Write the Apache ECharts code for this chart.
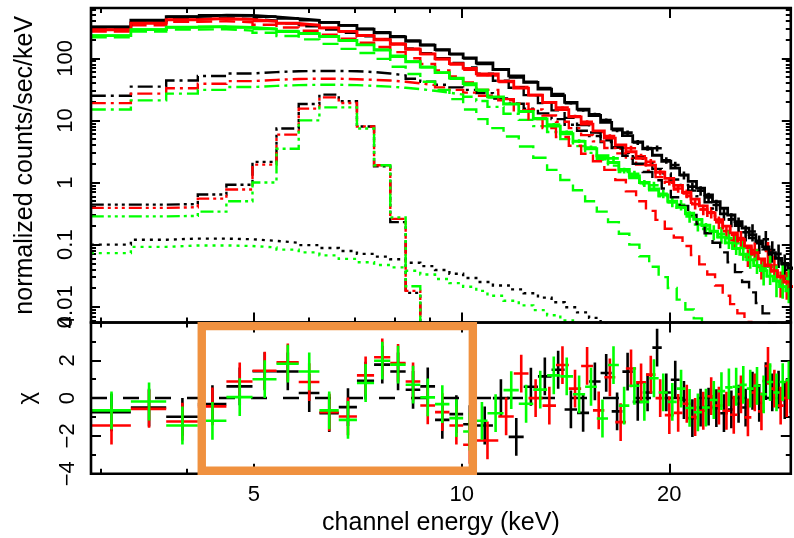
<!DOCTYPE html>
<html>
<head>
<meta charset="utf-8">
<script src="https://cdn.jsdelivr.net/npm/echarts@6/dist/echarts.min.js"></script>
<style>
html,body{margin:0;padding:0;background:#ffffff;}
#chart{width:794px;height:538px;}
</style>
</head>
<body>
<div id="chart"></div>
<script>
// ---------------- data ----------------
// channel bin edges (keV)
const edgesLow = [2.9, 3.315, 3.73, 4.145, 4.56, 4.975, 5.39, 5.805, 6.22, 6.635, 7.05, 7.465, 7.88, 8.295, 8.71, 9.15, 9.6, 10.05, 10.5];
const edgesHighBlack = [11.1, 11.7, 12.3, 12.9, 13.5, 14.1, 14.7, 15.3, 15.9, 16.5, 17.1, 17.7, 18.3, 18.9, 19.5, 20.1, 20.7, 21.3, 21.9, 22.5, 23.1, 23.7, 24.3, 24.9, 25.5, 26.1, 26.7, 27.3, 27.9, 28.5, 29.1, 29.7, 30.3];
const edgesHighRed = [11.3, 11.9, 12.5, 13.1, 13.7, 14.3, 14.9, 15.5, 16.1, 16.7, 17.3, 17.9, 18.5, 19.1, 19.7, 20.3, 20.9, 21.5, 22.1, 22.7, 23.3, 23.9, 24.5, 25.1, 25.7, 26.3, 26.9, 27.5, 28.1, 28.7, 29.3, 29.9, 30.5];
const edgesHighGreen = [10.9, 11.5, 12.1, 12.7, 13.3, 13.9, 14.5, 15.1, 15.7, 16.3, 16.9, 17.5, 18.1, 18.7, 19.3, 19.9, 20.5, 21.1, 21.7, 22.3, 22.9, 23.5, 24.1, 24.7, 25.3, 25.9, 26.5, 27.1, 27.7, 28.3, 28.9, 29.5, 30.1];

// total model (normalized counts/sec/keV)
const totBlack = [320, 410, 470, 495, 490, 465, 435, 410, 380, 340, 295, 258, 222, 190, 163, 138, 118, 102, 84, 66, 52, 41, 32, 25, 19.5, 15.2, 12, 9.3, 7.3, 5.7, 4.5, 3.5, 2.75, 2.2, 1.7, 1.33, 1.04, 0.81, 0.63, 0.49, 0.385, 0.3, 0.235, 0.185, 0.145, 0.115, 0.092, 0.074, 0.06, 0.05, 0.042];
const totRed = [290, 368, 420, 435, 425, 395, 365, 340, 310, 272, 232, 199, 168, 140, 118, 98, 82, 69, 56, 43, 33, 25.5, 19.5, 14.9, 11.4, 8.7, 6.8, 5.2, 4.05, 3.13, 2.45, 1.9, 1.47, 1.17, 0.9, 0.7, 0.54, 0.42, 0.325, 0.253, 0.198, 0.155, 0.121, 0.095, 0.074, 0.059, 0.047, 0.038, 0.031, 0.025, 0.021];
const totGreen = [232, 290, 318, 325, 315, 295, 270, 250, 225, 195, 165, 135, 107, 88, 72, 59, 48, 39, 31, 24, 18.3, 14, 10.6, 8.1, 6.1, 4.6, 3.5, 2.7, 2.1, 1.63, 1.28, 1.0, 0.79, 0.63, 0.5, 0.4, 0.32, 0.255, 0.205, 0.165, 0.133, 0.107, 0.087, 0.07, 0.057, 0.046, 0.038, 0.031, 0.026, 0.021, 0.018];

// component A (dashed)
const compABlack = [294, 375, 425, 442, 432, 403, 366, 329, 291, 258, 227, 199, 169, 143, 121, 100, 84, 71, 56.5, 43.5, 33.5, 25.5, 19, 14.5, 11, 8.4, 6.4, 4.8, 3.6, 2.7, 2.0, 1.48, 1.09, 0.8, 0.58, 0.42, 0.3, 0.215, 0.152, 0.107, 0.075, 0.052, 0.036, 0.025, 0.017, 0.0115, 0.0078, 0.0053, 0.0035, 0.0023, 0.0015];
const compARed = [271, 341, 387, 395, 381, 348, 313, 278, 240, 206, 178, 152, 126, 100.5, 81, 64, 51, 41, 31, 21, 14.5, 10.5, 7.5, 5.4, 3.9, 2.9, 2.2, 1.6, 1.1, 0.72, 0.5, 0.35, 0.25, 0.18, 0.13, 0.095, 0.068, 0.048, 0.033, 0.022, 0.015, 0.011, 0.0078, 0.0057, 0.004, 0.0028, 0.002];
const compAGreen = [217, 269, 291, 294, 280, 258, 229, 202, 171, 142, 122, 98, 73, 56, 42, 31, 22, 15, 10.5, 7.5, 5.5, 3.8, 2.5, 1.6, 1.1, 0.75, 0.5, 0.34, 0.23, 0.15, 0.1, 0.065, 0.044, 0.03, 0.02, 0.013, 0.009, 0.0065, 0.0045, 0.003];

// component B (dash-dot)
const compBBlack = [25, 35, 44, 52, 57, 60, 62, 62.5, 62.5, 62, 60, 57, 53, 47, 42, 37.5, 34, 31, 27.5, 22.5, 18.5, 15.5, 13, 10.5, 8.5, 6.8, 5.6, 4.5, 3.7, 3.0, 2.5, 2.0, 1.66, 1.4, 1.12, 0.91, 0.74, 0.6, 0.48, 0.38, 0.31, 0.25, 0.2, 0.16, 0.128, 0.103, 0.084, 0.069, 0.056, 0.048, 0.041];
const compBRed = [19, 27, 33, 39, 43, 45, 46.5, 47, 47, 46, 45, 44, 42, 39.5, 37, 34, 31, 28, 25, 22, 18.5, 15, 12, 9.5, 7.5, 5.8, 4.6, 3.6, 2.95, 2.41, 1.95, 1.55, 1.22, 0.99, 0.77, 0.6, 0.47, 0.37, 0.29, 0.23, 0.183, 0.144, 0.113, 0.089, 0.07, 0.056, 0.045, 0.037, 0.03, 0.025, 0.021];
const compBGreen = [15, 21, 27, 31, 34.5, 36, 37, 37.5, 37.5, 37, 36, 35, 33.5, 32, 30, 28, 26, 24, 20.5, 16.5, 12.8, 10.2, 8.1, 6.5, 5.0, 3.85, 3.0, 2.36, 1.87, 1.48, 1.18, 0.94, 0.75, 0.6, 0.48, 0.39, 0.31, 0.25, 0.2, 0.162, 0.131, 0.106, 0.086, 0.07, 0.057, 0.046, 0.038, 0.031, 0.026, 0.021, 0.018];

// component C (iron line, dash-dot-dot-dot)
const compCBlack = [0.44, 0.44, 0.45, 0.64, 0.92, 2.15, 7.4, 18.4, 26, 20.3, 8.0, 1.82, 0.23, 0.0167, 0.001];
const compCRed = [0.39, 0.39, 0.4, 0.55, 0.77, 1.94, 5.9, 15.5, 23.5, 19.1, 8.0, 1.9, 0.26, 0.018, 0.001];
const compCGreen = [0.285, 0.285, 0.29, 0.34, 0.5, 1.0, 3.5, 10, 16.2, 16.2, 7.4, 1.9, 0.275, 0.0213, 0.001];

// component D (dotted)
const compDBlack = [0.1, 0.12, 0.125, 0.125, 0.122, 0.115, 0.107, 0.098, 0.088, 0.079, 0.071, 0.064, 0.058, 0.051, 0.045, 0.039, 0.034, 0.029, 0.025, 0.022, 0.019, 0.0165, 0.014, 0.0118, 0.0098, 0.0081, 0.0066, 0.0053, 0.0043, 0.0034];
const compDGreen = [0.073, 0.092, 0.097, 0.097, 0.095, 0.09, 0.083, 0.075, 0.067, 0.059, 0.052, 0.047, 0.043, 0.038, 0.033, 0.028, 0.024, 0.021, 0.018, 0.015, 0.0125, 0.0105, 0.0088, 0.0073, 0.006, 0.0049, 0.004];

// observed data
const dataBlack = [318, 409, 467, 494, 492, 470, 440, 411, 378, 338.5, 297.7, 263, 225.8, 191.1, 164.4, 135.5, 116.2, 99.2, 81.3, 66, 49.0, 41.8, 33.3, 26.5, 19.0, 14.6, 12.6, 10.1, 6.93, 6.35, 4.42, 3.6, 3.56, 2.28, 1.91, 1.31, 0.86, 0.74, 0.576, 0.435, 0.314, 0.255, 0.216, 0.158, 0.163, 0.105, 0.122, 0.082, 0.071, 0.048, 0.046];
const dataRed = [286.2, 366.3, 415.8, 433.5, 428, 399.6, 371.2, 342.6, 307.9, 269.4, 235.1, 204.2, 172.1, 141.7, 117.3, 96.7, 79.6, 65.3, 52.9, 41.8, 34.3, 25.5, 19.2, 16.1, 11.7, 9.54, 6.52, 5.61, 3.64, 3.57, 2.65, 2.16, 1.47, 1.03, 0.8, 0.666, 0.446, 0.367, 0.332, 0.23, 0.165, 0.118, 0.128, 0.064, 0.0815, 0.0437, 0.079, 0.046, 0.0254, 0.025, 0.0199];
const dataGreen = [230.5, 289.5, 313.8, 321.5, 315.1, 297.7, 274.9, 253.5, 223.4, 192.3, 166.7, 138.7, 110, 89.1, 72.05, 58.6, 46.8, 37.2, 29.9, 23.4, 18.6, 13.8, 10.8, 8.6, 6.52, 4.66, 3.66, 2.45, 2.45, 1.56, 1.38, 0.974, 0.906, 0.659, 0.483, 0.438, 0.285, 0.211, 0.179, 0.161, 0.148, 0.127, 0.105, 0.0886, 0.0684, 0.0589, 0.0416, 0.0439, 0.0301, 0.0312, 0.0283];

// relative 1-sigma errors of the data
const relErrBlack = [0.008, 0.007, 0.007, 0.007, 0.007, 0.007, 0.008, 0.008, 0.008, 0.009, 0.010, 0.011, 0.012, 0.013, 0.014, 0.016, 0.018, 0.020, 0.022, 0.025, 0.028, 0.032, 0.036, 0.041, 0.046, 0.052, 0.058, 0.065, 0.073, 0.082, 0.092, 0.10, 0.11, 0.12, 0.13, 0.145, 0.16, 0.175, 0.19, 0.21, 0.23, 0.25, 0.27, 0.29, 0.31, 0.33, 0.36, 0.38, 0.41, 0.44, 0.47];
const relErrRed = [0.009, 0.008, 0.008, 0.008, 0.008, 0.008, 0.009, 0.009, 0.009, 0.010, 0.011, 0.012, 0.013, 0.014, 0.016, 0.018, 0.020, 0.022, 0.025, 0.028, 0.031, 0.035, 0.040, 0.045, 0.051, 0.057, 0.064, 0.072, 0.080, 0.090, 0.10, 0.11, 0.12, 0.13, 0.145, 0.16, 0.175, 0.19, 0.21, 0.23, 0.25, 0.27, 0.30, 0.32, 0.34, 0.37, 0.40, 0.42, 0.45, 0.48, 0.52];
const relErrGreen = [0.010, 0.009, 0.009, 0.009, 0.009, 0.009, 0.010, 0.010, 0.011, 0.012, 0.013, 0.014, 0.016, 0.017, 0.018, 0.021, 0.023, 0.026, 0.029, 0.033, 0.036, 0.042, 0.047, 0.053, 0.060, 0.068, 0.075, 0.085, 0.095, 0.107, 0.12, 0.13, 0.14, 0.155, 0.17, 0.19, 0.21, 0.23, 0.25, 0.27, 0.30, 0.33, 0.35, 0.38, 0.40, 0.43, 0.47, 0.49, 0.53, 0.57, 0.6];

// residuals (chi)
const chiBlack = [-0.75, -0.5, -0.99, -0.32, 0.62, 1.42, 1.41, 0.27, -0.8, -0.48, 0.92, 1.77, 1.41, 0.44, 0.62, -1.15, -0.85, -1.38, -1.45, 0.0, -2.05, 0.6, 1.15, 1.5, -0.6, -0.78, 0.88, 1.33, -0.7, 1.4, -0.2, 0.3, 2.67, 0.3, 0.97, -0.1, -1.06, -0.5, -0.45, -0.53, -0.8, -0.6, -0.3, -0.5, 0.39, -0.25, 0.9, 0.3, 0.45, -0.1, 0.2];
const chiRed = [-1.45, -0.57, -1.24, -0.44, 0.88, 1.45, 1.89, 0.85, -0.75, -0.97, 1.2, 2.16, 1.86, 0.88, -0.39, -0.74, -1.45, -2.47, -2.24, -0.97, 1.3, 0.0, -0.4, 1.75, 0.5, 1.7, -0.65, 1.1, -1.27, 1.57, 0.83, 1.24, 0.0, -0.9, -0.78, -0.3, -1.0, -0.67, 0.1, -0.4, -0.67, -0.88, 0.2, -1.02, 0.3, -0.7, 1.7, 0.5, -0.4, 0.0, -0.1];
const chiGreen = [-0.65, -0.18, -1.45, -1.2, 0.05, 1.0, 1.82, 1.41, -0.65, -1.15, 0.8, 1.98, 1.77, 0.71, 0.04, -0.32, -1.06, -1.77, -1.2, -0.8, 0.42, -0.3, 0.45, 1.2, 1.15, 0.2, 0.6, -1.08, 1.75, -0.4, 0.65, -0.2, 1.05, 0.3, -0.2, 0.5, -0.52, -0.75, -0.5, -0.1, 0.37, 0.57, 0.6, 0.7, 0.5, 0.65, 0.2, 0.85, 0.3, 0.85, 0.95];

// axes
const xRange = [2.902, 30.0];
const yRangeTop = [0.00557, 646];
const chiRange = [-4, 4];
const xMajorTicks = [5, 10, 20];
const xTickLabels = ['5', '10', '20'];
const xMinorTicks = [3, 4, 6, 7, 8, 9, 30];
const yMajorTicks = [0.01, 0.1, 1, 10, 100];
const yTickLabels = ['0.01', '0.1', '1', '10', '100'];
const yMinorMantissa = [2, 3, 4, 5, 6, 7, 8, 9];
const yMinorDecades = [0.001, 0.01, 0.1, 1, 10, 100];
const chiTicks = [-4, -2, 0, 2, 4];
const chiTickLabels = ['\u22124', '\u22122', '0', '2', '4'];
const chiMinorTicks = [-3, -1, 1, 3];
const highlightE = [4.2, 10.38];
const highlightChi = [-3.84, 3.81];

// ---------------- chart ----------------
const FONT = "'Liberation Sans', Arial, Helvetica, sans-serif";
const BLACK = '#000000', RED = '#ff0000', GREEN = '#00ff00';
const L = Math.log10;

const edgesBlack = edgesLow.concat(edgesHighBlack);
const edgesRed = edgesLow.concat(edgesHighRed);
const edgesGreen = edgesLow.concat(edgesHighGreen);

function stepData(edges, vals) {
  const out = [];
  for (let i = 0; i < vals.length; i++) out.push([edges[i], vals[i]]);
  out.push([edges[vals.length], vals[vals.length - 1]]);
  return out;
}
function stepSeries(edges, vals, color, dash, width) {
  return {
    type: 'line', xAxisIndex: 0, yAxisIndex: 0, data: stepData(edges, vals),
    step: 'end', symbol: 'none', showSymbol: false, silent: true, clip: true,
    lineStyle: { color: color, width: width, type: dash, cap: 'butt', join: 'miter' },
    z: 3
  };
}
function crossSeries(xi, yi, rows, color, z) {
  return {
    type: 'custom', xAxisIndex: xi, yAxisIndex: yi, data: rows, clip: true, silent: true, z: z,
    encode: { x: [0, 1], y: [2, 3, 4] },
    renderItem: function (params, api) {
      const lo = api.value(0), hi = api.value(1), v = api.value(2), vlo = api.value(3), vhi = api.value(4);
      const xc = (lo + hi) / 2;
      const a = api.coord([lo, v]), b = api.coord([hi, v]);
      const c1 = api.coord([xc, vlo]), c2 = api.coord([xc, vhi]);
      return { type: 'group', children: [
        { type: 'line', shape: { x1: a[0], y1: a[1], x2: b[0], y2: b[1] }, style: { stroke: color, lineWidth: 2.6 } },
        { type: 'line', shape: { x1: c1[0], y1: c1[1], x2: c2[0], y2: c2[1] }, style: { stroke: color, lineWidth: 2.6 } }
      ]};
    }
  };
}
function dataRows(edges, data, rel) {
  return data.map((d, i) => [edges[i], edges[i + 1], d, d * (1 - rel[i]), d * (1 + rel[i])]);
}
function chiRows(edges, chi) {
  return chi.map((c, i) => [edges[i], edges[i + 1], c, c - 1, c + 1]);
}

const yMinorTicks = [];
yMinorDecades.forEach(d => yMinorMantissa.forEach(m => {
  const v = m * d;
  if (v >= yRangeTop[0] && v <= yRangeTop[1]) yMinorTicks.push(v);
}));

const tickStyle = { color: '#000', width: 2 };
function findLabel(vals, labels, v) {
  for (let i = 0; i < vals.length; i++) if (Math.abs(vals[i] - v) < 1e-6) return labels[i];
  return '';
}
function xTickAxis(grid, pos, ticks, len, withLabels, name) {
  const ax = {
    type: 'value', gridIndex: grid, position: pos, min: L(xRange[0]), max: L(xRange[1]),
    axisLine: { show: false, onZero: false }, splitLine: { show: false },
    axisTick: { show: true, inside: true, length: len, customValues: ticks.map(L), lineStyle: tickStyle },
    axisLabel: { show: false }
  };
  if (withLabels) {
    const lv = xMajorTicks.map(L);
    ax.axisLabel = { show: true, customValues: lv, margin: 10, fontSize: 22, color: '#000', fontFamily: FONT,
      formatter: v => findLabel(lv, xTickLabels, v) };
  }
  if (name) {
    ax.name = name; ax.nameLocation = 'middle'; ax.nameGap = 37;
    ax.nameTextStyle = { fontSize: 25, color: '#000', fontFamily: FONT };
  }
  return ax;
}
function yTopTickAxis(pos, ticks, len, withLabels) {
  const ax = {
    type: 'value', gridIndex: 0, position: pos, min: L(yRangeTop[0]), max: L(yRangeTop[1]),
    axisLine: { show: false, onZero: false }, splitLine: { show: false },
    axisTick: { show: true, inside: true, length: len, customValues: ticks.map(L), lineStyle: tickStyle },
    axisLabel: { show: false }
  };
  if (withLabels) {
    const lv = yMajorTicks.map(L);
    ax.axisLabel = { show: true, customValues: lv, rotate: 90, margin: 14, fontSize: 22, color: '#000', fontFamily: FONT,
      formatter: v => findLabel(lv, yTickLabels, v) };
    ax.name = 'normalized counts/sec/keV'; ax.nameLocation = 'middle'; ax.nameGap = 53; ax.nameRotate = 90;
    ax.nameTextStyle = { fontSize: 25, color: '#000', fontFamily: FONT };
  }
  return ax;
}
function chiTickAxis(pos, ticks, len, withLabels) {
  const ax = {
    type: 'value', gridIndex: 1, position: pos, min: chiRange[0], max: chiRange[1],
    axisLine: { show: false, onZero: false }, splitLine: { show: false },
    axisTick: { show: true, inside: true, length: len, customValues: ticks, lineStyle: tickStyle },
    axisLabel: { show: false }
  };
  if (withLabels) {
    ax.axisLabel = { show: true, customValues: chiTicks, rotate: 90, margin: 12, fontSize: 22, color: '#000', fontFamily: FONT,
      formatter: v => findLabel(chiTicks, chiTickLabels, v) };
    ax.name = '\u03c7'; ax.nameLocation = 'middle'; ax.nameGap = 52; ax.nameRotate = 90;
    ax.nameTextStyle = { fontSize: 24, color: '#000', fontFamily: FONT };
  }
  return ax;
}

const xAxes = [
  { type: 'log', gridIndex: 0, min: xRange[0], max: xRange[1], show: false, axisLine: { onZero: false } },   // 0 data top
  xTickAxis(0, 'bottom', xMajorTicks, 10, false),
  xTickAxis(0, 'bottom', xMinorTicks, 5, false),
  xTickAxis(0, 'top', xMajorTicks, 10, false),
  xTickAxis(0, 'top', xMinorTicks, 5, false),
  { type: 'log', gridIndex: 1, min: xRange[0], max: xRange[1], show: false, axisLine: { onZero: false } },   // 5 data bottom
  xTickAxis(1, 'bottom', xMajorTicks, 10, true, 'channel energy (keV)'),
  xTickAxis(1, 'bottom', xMinorTicks, 5, false),
  xTickAxis(1, 'top', xMajorTicks, 10, false),
  xTickAxis(1, 'top', xMinorTicks, 5, false)
];
const yAxes = [
  { type: 'log', gridIndex: 0, min: yRangeTop[0], max: yRangeTop[1], show: false, axisLine: { onZero: false } }, // 0 data top
  yTopTickAxis('left', yMajorTicks, 9, true),
  yTopTickAxis('left', yMinorTicks, 5, false),
  yTopTickAxis('right', yMajorTicks, 9, false),
  yTopTickAxis('right', yMinorTicks, 5, false),
  { type: 'value', gridIndex: 1, min: chiRange[0], max: chiRange[1], show: false, axisLine: { onZero: false } }, // 5 data bottom
  chiTickAxis('left', chiTicks, 10, true),
  chiTickAxis('left', chiMinorTicks, 5, false),
  chiTickAxis('right', chiTicks, 10, false),
  chiTickAxis('right', chiMinorTicks, 5, false)
];

const DASH_A = [16, 7];
const DASH_B = [15, 5, 3, 5];
const DASH_C = [13, 4, 3, 4, 3, 4, 3, 4];
const DASH_D = [3, 5];

const series = [
  crossSeries(0, 0, dataRows(edgesBlack, dataBlack, relErrBlack), BLACK, 2),
  crossSeries(0, 0, dataRows(edgesRed, dataRed, relErrRed), RED, 2),
  crossSeries(0, 0, dataRows(edgesGreen, dataGreen, relErrGreen), GREEN, 2),
  stepSeries(edgesBlack, compDBlack, BLACK, DASH_D, 2.4),
  stepSeries(edgesGreen, compDGreen, GREEN, DASH_D, 2.4),
  stepSeries(edgesBlack, compCBlack, BLACK, DASH_C, 2.4),
  stepSeries(edgesRed, compCRed, RED, DASH_C, 2.4),
  stepSeries(edgesGreen, compCGreen, GREEN, DASH_C, 2.4),
  stepSeries(edgesBlack, compBBlack, BLACK, DASH_B, 2.4),
  stepSeries(edgesRed, compBRed, RED, DASH_B, 2.4),
  stepSeries(edgesGreen, compBGreen, GREEN, DASH_B, 2.4),
  stepSeries(edgesBlack, compABlack, BLACK, DASH_A, 2.4),
  stepSeries(edgesRed, compARed, RED, DASH_A, 2.4),
  stepSeries(edgesGreen, compAGreen, GREEN, DASH_A, 2.4),
  stepSeries(edgesBlack, totBlack, BLACK, 'solid', 2.8),
  stepSeries(edgesRed, totRed, RED, 'solid', 2.8),
  stepSeries(edgesGreen, totGreen, GREEN, 'solid', 2.8),
  {
    type: 'line', xAxisIndex: 5, yAxisIndex: 5, data: [[xRange[0], 0], [xRange[1], 0]],
    symbol: 'none', silent: true, z: 1,
    lineStyle: { color: BLACK, width: 2.5, type: [16, 16] }
  },
  crossSeries(5, 5, chiRows(edgesBlack, chiBlack), BLACK, 2),
  crossSeries(5, 5, chiRows(edgesRed, chiRed), RED, 3),
  crossSeries(5, 5, chiRows(edgesGreen, chiGreen), GREEN, 4)
];

const chart = echarts.init(document.getElementById('chart'), null, { renderer: 'canvas' });
chart.setOption({
  animation: false,
  backgroundColor: '#ffffff',
  textStyle: { fontFamily: FONT },
  grid: [
    { left: 91, right: 3.2, top: 8, height: 314.5, show: true, borderColor: '#000', borderWidth: 2.6, backgroundColor: 'rgba(0,0,0,0)', z: 10 },
    { left: 91, right: 3.2, top: 322.5, height: 151.2, show: true, borderColor: '#000', borderWidth: 2.6, backgroundColor: 'rgba(0,0,0,0)', z: 10 }
  ],
  xAxis: xAxes,
  yAxis: yAxes,
  series: series
});

const pTL = chart.convertToPixel({ xAxisIndex: 5, yAxisIndex: 5 }, [highlightE[0], highlightChi[1]]);
const pBR = chart.convertToPixel({ xAxisIndex: 5, yAxisIndex: 5 }, [highlightE[1], highlightChi[0]]);
chart.setOption({
  graphic: [{
    type: 'rect', z: 100, silent: true,
    shape: { x: pTL[0], y: pTL[1], width: pBR[0] - pTL[0], height: pBR[1] - pTL[1] },
    style: { fill: 'none', stroke: '#f0913f', lineWidth: 8.4 }
  }]
});
</script>
</body>
</html>
